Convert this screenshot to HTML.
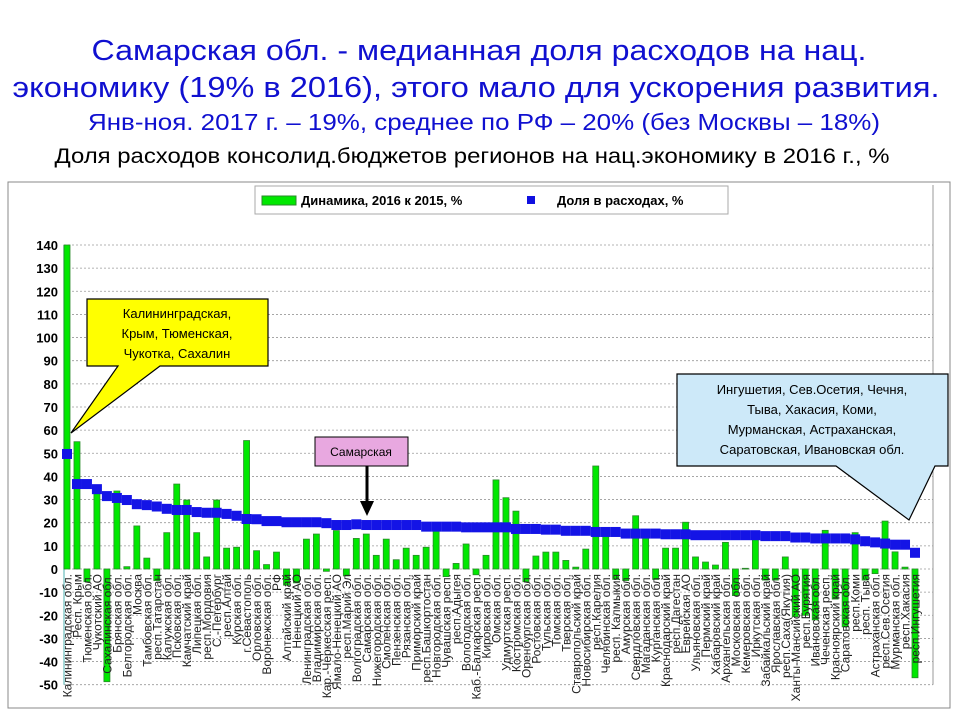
<!DOCTYPE html>
<html><head><meta charset="utf-8">
<style>
html,body{margin:0;padding:0;background:#fff;}
svg{display:block;font-family:"Liberation Sans","DejaVu Sans",sans-serif;}
</style></head>
<body>
<svg id="chart" width="960" height="720" viewBox="0 0 960 720" xmlns="http://www.w3.org/2000/svg">
<g>
<text x="479" y="60" font-size="29" fill="#1010d0" text-anchor="middle" textLength="775" lengthAdjust="spacingAndGlyphs">Самарская обл. - медианная доля расходов на нац.</text>
<text x="476" y="97" font-size="29" fill="#1010d0" text-anchor="middle" textLength="927" lengthAdjust="spacingAndGlyphs">экономику (19% в 2016), этого мало для ускорения развития.</text>
<text x="484" y="130" font-size="23" fill="#1010d0" text-anchor="middle" textLength="792" lengthAdjust="spacingAndGlyphs">Янв-ноя. 2017 г. – 19%, среднее по РФ – 20% (без Москвы – 18%)</text>
<text x="472" y="163" font-size="21" fill="#000" text-anchor="middle" textLength="835" lengthAdjust="spacingAndGlyphs">Доля расходов консолид.бюджетов регионов на нац.экономику в 2016 г., %</text>
</g>
<rect x="8" y="182" width="942" height="526" fill="#fff" stroke="#888" stroke-width="1"/>
<g>
<rect x="255" y="186" width="473" height="28" fill="#fff" stroke="#aaa"/>
<rect x="262" y="196" width="34" height="9" fill="#00e800" stroke="#2a8a2a"/>
<text x="301" y="205" font-size="13" font-weight="bold" fill="#000">Динамика, 2016 к 2015, %</text>
<rect x="527" y="196" width="8" height="8" fill="#1010e0"/>
<text x="557" y="205" font-size="13" font-weight="bold" fill="#000">Доля в расходах, %</text>
</g>
<g id="grid"></g>
<g id="yaxis"></g>
<g id="bars"></g>
<g id="marks"></g>
<g id="xlabels"></g>

<g>
<polygon points="87,299 268,299 268,366 160,366 71,433 118,366 87,366" fill="#ffff00" stroke="#000" stroke-width="1.2"/>
<text x="177" y="318" font-size="13" text-anchor="middle">Калининградская,</text>
<text x="177" y="338" font-size="13" text-anchor="middle">Крым, Тюменская,</text>
<text x="177" y="358" font-size="13" text-anchor="middle">Чукотка, Сахалин</text>
</g>
<g>
<rect x="315" y="437" width="93" height="29" fill="#e8a8e0" stroke="#000"/>
<text x="361" y="456" font-size="12" text-anchor="middle">Самарская</text>
<line x1="367" y1="466" x2="367" y2="503" stroke="#000" stroke-width="3"/>
<polygon points="360,501 374,501 367,516" fill="#000"/>
</g>
<g>
<polygon points="677,374 948,374 948,466 935,466 909,520 836,466 677,466" fill="#cde9f9" stroke="#000" stroke-width="1.2"/>
<text x="812" y="394" font-size="13" text-anchor="middle">Ингушетия, Сев.Осетия, Чечня,</text>
<text x="812" y="414" font-size="13" text-anchor="middle">Тыва, Хакасия, Коми,</text>
<text x="812" y="434" font-size="13" text-anchor="middle">Мурманская, Астраханская,</text>
<text x="812" y="454" font-size="13" text-anchor="middle">Саратовская, Ивановская обл.</text>
</g>
</svg>
<script>
var regions = ["Калининградская обл.","Респ. Крым","Тюменская обл.","Чукотский АО","Сахалинская обл.","Брянская обл.","Белгородская обл.","Москва","Тамбовская обл.","респ.Татарстан","Калужская обл.","Псковская обл.","Камчатский край","Липецкая обл.","респ.Мордовия","С.-Петербург","респ.Алтай","Курская обл.","г.Севастополь","Орловская обл.","Воронежская обл.","РФ","Алтайский край","Ненецкий АО","Ленинградская обл.","Владимирская обл.","Кар.-Черкесская респ.","Ямало-Ненецкий АО","респ.Марий Эл","Волгоградская обл.","Самарская обл.","Нижегородская обл.","Смоленская обл.","Пензенская обл.","Рязанская обл.","Приморский край","респ.Башкортостан","Новгородская обл.","Чувашская респ.","респ.Адыгея","Вологодская обл.","Каб.-Балкарская респ.","Кировская обл.","Омская обл.","Удмуртская респ.","Костромская обл.","Оренбургская обл.","Ростовская обл.","Тульская обл.","Томская обл.","Тверская обл.","Ставропольский край","Новосибирская обл.","респ.Карелия","Челябинская обл.","респ. Калмыкия","Амурская обл.","Свердловская обл.","Магаданская обл.","Курганская обл.","Краснодарский край","респ.Дагестан","Еврейская АО","Ульяновская обл.","Пермский край","Хабаровский край","Архангельская обл.","Московская обл.","Кемеровская обл.","Иркутская обл.","Забайкальский край","Ярославская обл.","респ.Саха(Якутия)","Ханты-Мансийский АО","респ.Бурятия","Ивановская обл.","Чеченская респ.","Красноярский край","Саратовская обл.","респ.Коми","респ. Тыва","Астраханская обл.","респ.Сев.Осетия","Мурманская обл.","респ.Хакасия","респ.Ингушетия"];
var dynamics = [160,55,-5.5,33,-48.7,33.7,1,18.6,4.7,-5,15.7,36.7,29.8,15.7,5.2,29.8,9,9.4,55.5,7.9,1.9,7.3,-7,-6,12.9,15.1,-1,16.6,-3,13.2,15.1,5.9,12.9,4,9,5.9,9.4,16.9,-3.3,2.4,10.8,-2.5,5.9,38.5,30.8,25,-5.5,5.6,7.3,7.3,3.7,0.8,8.6,44.5,14.3,-4.5,-5,23,15.4,-4.5,9,9,20.2,5.2,3,1.7,11.5,-11.5,0.3,14.6,-4.8,-4.8,5.2,-20.6,-20,-22,16.7,-13,-25,15.7,-4.8,-2,20.7,7.4,0.8,-47];
var share = [49.7,36.7,36.7,34.5,31.5,30.7,29.8,28,27.6,27,26,25.5,25.5,24.6,24.3,24.3,23.8,23,21.6,21.5,20.7,20.7,20.2,20.2,20.2,20.2,19.8,19,19,19.3,19,19,19,19,19,19,18.3,18.3,18.3,18.3,18,18,18,18,18,17.3,17.3,17.3,17,17,16.5,16.5,16.5,16,16,16,15.3,15.3,15.3,15.3,15,15,15,14.6,14.6,14.6,14.6,14.6,14.6,14.6,14.2,14.2,14.2,13.6,13.6,13.2,13.2,13.2,13.2,12.8,12,11.5,11,10.5,10.5,7];
var yTicks = [140,130,120,110,100,90,80,70,60,50,40,30,20,10,0,-10,-20,-30,-40,-50];

var NS = "http://www.w3.org/2000/svg";
var yMin = -50, yMax = 140, pTop = 245, pBot = 684.7, pLeft = 64, pRight = 933;
function yS(v){ return pBot - (v - yMin) * (pBot - pTop) / (yMax - yMin); }
var step = (915 - 67) / (regions.length - 1);
function xS(i){ return 67 + i * step; }
function mk(tag, attrs, parent){ var e = document.createElementNS(NS, tag); for (var k in attrs) e.setAttribute(k, attrs[k]); parent.appendChild(e); return e; }

var grid = document.getElementById('grid'), yaxis = document.getElementById('yaxis');
yTicks.forEach(function(t){
  var g = mk('line', {x1: pLeft, x2: pRight, y1: yS(t), y2: yS(t), stroke: '#9a9a9a', 'stroke-width': 0.8, 'stroke-dasharray': '2,2'}, grid);
  
  
  var tl = mk('text', {x: 58, y: yS(t) + 5, 'font-size': 13, 'font-weight': 'bold', 'text-anchor': 'end', fill: '#000'}, yaxis);
  tl.textContent = t;
  
  
});
var ax = mk('line', {x1: pLeft, x2: pLeft, y1: pTop, y2: pBot, stroke: '#8cc', 'stroke-width': 1.5}, yaxis);


var ax2 = mk('line', {x1: pRight, x2: pRight, y1: pTop - 60, y2: pBot, stroke: '#999', 'stroke-width': 1}, yaxis);



var bars = document.getElementById('bars'), marks = document.getElementById('marks'), xl = document.getElementById('xlabels');
regions.forEach(function(r, i){
  var v = Math.max(Math.min(dynamics[i], yMax), yMin);
  var y0 = yS(0), y1 = yS(v);
  var b = mk('rect', {x: xS(i) - 3, y: Math.min(y0, y1), width: 6, height: Math.max(Math.abs(y1 - y0), 0.8), fill: '#00e800', stroke: '#2a8a2a', 'stroke-width': 0.8}, bars);
  
  
  var lb = mk('text', {transform: 'translate(' + (xS(i) + 4.5) + ',574) rotate(-90)', 'font-size': 12, 'text-anchor': 'end', fill: '#222'}, xl);
  lb.textContent = r;
  
  
});
regions.forEach(function(r, i){
  var m = mk('rect', {x: xS(i) - 5, y: yS(share[i]) - 5, width: 10, height: 10, fill: '#1414e6'}, marks);
  
  
});
</script>
</body></html>
